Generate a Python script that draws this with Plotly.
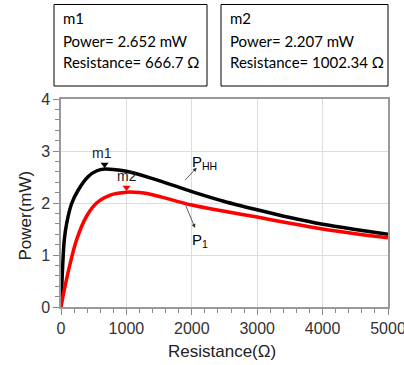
import plotly.graph_objects as go

# ---- data ----
r_hh = [0, 10, 20, 50, 87, 163, 264, 417, 550, 667, 800, 1000, 1400, 2000, 2500, 3000, 3500, 4000, 4500, 5000]
p_hh = [0, 0.33, 0.64, 1.29, 1.61, 1.99, 2.25, 2.51, 2.62, 2.652, 2.645, 2.61, 2.47, 2.22, 2.03, 1.87, 1.72, 1.59, 1.49, 1.40]

r_1 = [0, 50, 118, 240, 393, 545, 775, 1002, 1200, 1400, 2000, 2500, 3000, 3500, 4000, 4500, 5000]
p_1 = [0, 0.33, 0.72, 1.30, 1.75, 2.00, 2.16, 2.207, 2.20, 2.16, 1.96, 1.84, 1.73, 1.61, 1.50, 1.41, 1.33]

marker_names = ["m1", "m2"]
marker_r = [666.7, 1002.34]
marker_p = [2.652, 2.207]
marker_colors = ["#000000", "#ff0000"]

x_ticks = [0, 1000, 2000, 3000, 4000, 5000]
y_ticks = [0, 1, 2, 3, 4]

W, H = 404, 365
ML, MR, MT, MB = 61, 16, 99, 58
PW, PH = W - ML - MR, H - MT - MB


def px(xp):
    return (xp - ML) / PW


def py(yp):
    return (H - MB - yp) / PH


fig = go.Figure()
fig.add_trace(go.Scatter(x=r_hh, y=p_hh, mode="lines", line=dict(color="#000000", width=3.5, shape="spline", smoothing=0.8),
                         showlegend=False, hoverinfo="skip"))
fig.add_trace(go.Scatter(x=r_1, y=p_1, mode="lines", line=dict(color="#ff0000", width=3.5, shape="spline", smoothing=0.9),
                         showlegend=False, hoverinfo="skip"))
# marker triangles slightly above the curves
fig.add_trace(go.Scatter(x=marker_r, y=[p + 0.09 for p in marker_p], mode="markers",
                         marker=dict(symbol="triangle-down", size=7, color=marker_colors),
                         showlegend=False, hoverinfo="skip"))

ann = []
for name, r, p in zip(marker_names, marker_r, marker_p):
    ann.append(dict(x=r, y=p, xref="x", yref="y", text=name, showarrow=False,
                    xanchor="center", yanchor="middle",
                    xshift=-3 if name == "m1" else 0, yshift=16,
                    font=dict(family="Liberation Sans", size=14, color="#222")))

# curve labels with arrows
ann.append(dict(x=2075, y=2.68, xref="x", yref="y", ax=-13, ay=14, text="", showarrow=True,
                arrowhead=2, arrowsize=1, arrowwidth=0.8, arrowcolor="#333"))
ann.append(dict(x=2050, y=1.52, xref="x", yref="y", ax=-10, ay=-24, text="", showarrow=True,
                arrowhead=2, arrowsize=1, arrowwidth=0.8, arrowcolor="#333"))
ann.append(dict(x=px(204), y=py(162), xref="paper", yref="paper", text="P<sub>HH</sub>", showarrow=False,
                xanchor="center", yanchor="middle",
                font=dict(family="Liberation Sans", size=15, color="#000")))
ann.append(dict(x=px(200), y=py(240), xref="paper", yref="paper", text="P<sub>1</sub>", showarrow=False,
                xanchor="center", yanchor="middle",
                font=dict(family="Liberation Sans", size=15, color="#000")))

# info boxes
box_lines = [
    ["m1", "Power= 2.652 mW", "Resistance= 666.7 Ω"],
    ["m2", "Power= 2.207 mW", "Resistance= 1002.34 Ω"],
]
box_x = [(54, 207), (221, 388)]
shapes = []
for (x0, x1), lines in zip(box_x, box_lines):
    shapes.append(dict(type="rect", xref="paper", yref="paper", x0=px(x0), x1=px(x1), y0=py(86), y1=py(4.5),
                       line=dict(color="#000", width=1), fillcolor="rgba(0,0,0,0)"))
    for yy, t in zip([18, 41, 62], lines):
        ann.append(dict(x=px(x0 + 7), y=py(yy), xref="paper", yref="paper", text=t, showarrow=False,
                        xanchor="left", yanchor="middle",
                        font=dict(family="Lato", size=15, color="#000")))

# axis titles
ann.append(dict(x=px(24.5), y=py(216), xref="paper", yref="paper", text="Power(mW)", textangle=-90,
                xanchor="center", yanchor="middle",
                showarrow=False, font=dict(family="Liberation Sans", size=17, color="#222")))
ann.append(dict(x=px(221.5), y=py(351), xref="paper", yref="paper", text="Resistance(Ω)",
                xanchor="center", yanchor="middle",
                showarrow=False, font=dict(family="Liberation Sans", size=17, color="#222")))

axis_common = dict(showline=True, linecolor="#999", linewidth=1.5, mirror=True,
                   showgrid=True, gridcolor="#dddddd", gridwidth=1, zeroline=False,
                   ticks="outside", ticklen=6, tickcolor="#888", tickwidth=1,
                   ticklabeloverflow="allow", automargin=False,
                   tickfont=dict(family="Liberation Sans", size=16, color="#333"))

fig.update_layout(
    width=W, height=H,
    margin=dict(l=ML, r=MR, t=MT, b=MB, pad=0, autoexpand=False),
    paper_bgcolor="white", plot_bgcolor="white",
    xaxis=dict(range=[0, 5000], tickvals=x_ticks, ticktext=[str(v) for v in x_ticks],
               minor=dict(dtick=200, ticks="outside", ticklen=4, tickcolor="#888", showgrid=False),
               **axis_common),
    yaxis=dict(range=[0, 4], tickvals=y_ticks, ticktext=[str(v) for v in y_ticks],
               minor=dict(dtick=0.2, ticks="outside", ticklen=4, tickcolor="#888", showgrid=False),
               **axis_common),
    annotations=ann,
    shapes=shapes,
    showlegend=False,
)

fig.write_html("out.html")
